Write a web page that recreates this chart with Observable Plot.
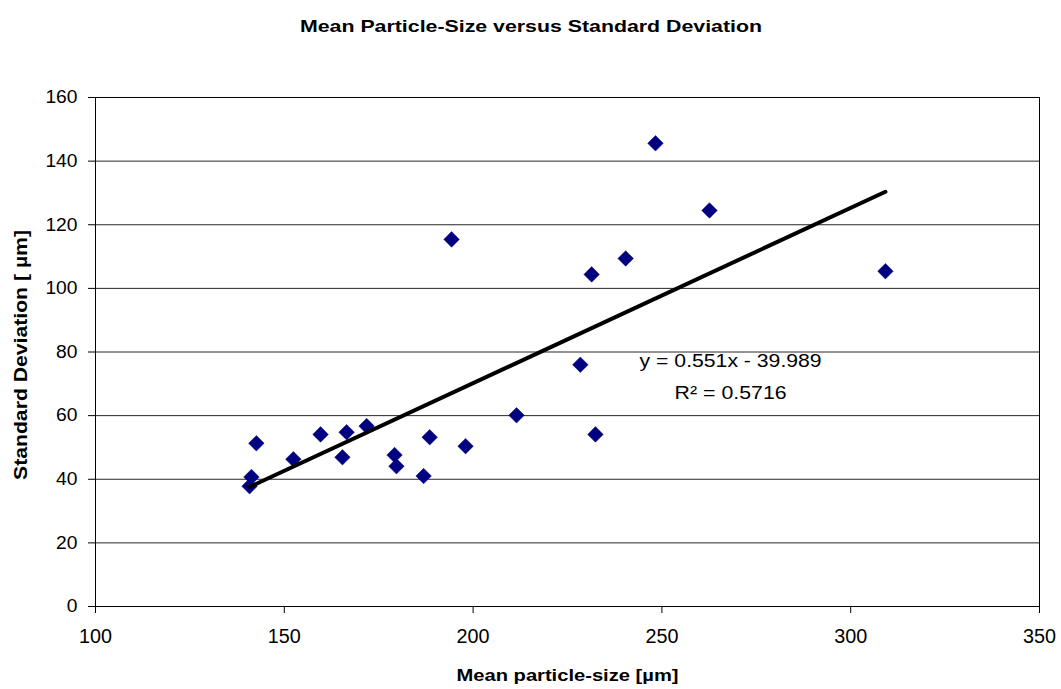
<!DOCTYPE html>
<html>
<head>
<meta charset="utf-8">
<script src="https://cdn.jsdelivr.net/npm/d3@7"></script>
<script src="https://cdn.jsdelivr.net/npm/@observablehq/plot@0.6"></script>
<style>
  body { margin: 0; background: #fff; font-family: "Liberation Sans", Arial, sans-serif; }
  #title { position: relative; height: 40px; width: 1061px; text-align: center; }
  #title span { position: absolute; left: 50%; top: 18px; white-space: nowrap; font-weight: bold; font-size: 16.5px; line-height: 16.5px; color: #000; transform-origin: 0 0; }
  #chart svg { display: block; }
</style>
</head>
<body>
<div id="title"><span>Mean Particle-Size versus Standard Deviation</span></div>
<div id="chart"></div>
<script>
// Mean particle-size [µm]
const meanSize = [140.8, 141.3, 142.6, 152.4, 159.6, 165.4, 166.5, 171.8, 179.2, 179.7, 186.9,
                  188.5, 194.3, 198.0, 211.5, 228.4, 231.4, 232.4, 240.4, 248.3, 262.6, 309.2];
// Standard deviation [µm]
const stdDev   = [37.8, 40.7, 51.3, 46.3, 54.1, 46.9, 54.8, 56.7, 47.6, 44.1, 41.0,
                  53.2, 115.4, 50.4, 60.1, 76.0, 104.4, 54.1, 109.4, 145.6, 124.5, 105.4];
// Linear trendline y = slope*x + intercept
const slope = 0.551, intercept = -39.989;
const equationLines = ["y = 0.551x - 39.989", "R\u00B2 = 0.5716"];
const equationAnchor = {x: 268.2, y: [77.2, 67.1]};
const xTicks = [100, 150, 200, 250, 300, 350];
const yTicks = [0, 20, 40, 60, 80, 100, 120, 140, 160];
const xTitle = "Mean particle-size [\u00B5m]";
const yTitle = "Standard Deviation [ \u00B5m]";

const points = meanSize.map((x, i) => ({x, y: stdDev[i]}));
const xMin = d3.min(meanSize), xMax = d3.max(meanSize);
const trend = [xMin, xMax].map(x => ({x, y: slope * x + intercept}));
const eq = equationLines.map((t, i) => ({t, x: equationAnchor.x, y: equationAnchor.y[i]}));

const chart = Plot.plot({
  width: 1061,
  height: 649,
  marginTop: 57,
  marginBottom: 83,
  marginLeft: 95,
  marginRight: 22,
  style: {fontFamily: "Liberation Sans, Arial, sans-serif", fontSize: "18px", color: "#000", background: "#fff"},
  x: {domain: [100, 350], ticks: xTicks, label: null},
  y: {domain: [0, 160], ticks: yTicks, label: null},
  marks: [
    Plot.ruleY(yTicks, {stroke: "#000", strokeWidth: 1, strokeOpacity: 0.85}),
    Plot.frame({stroke: "#000", strokeWidth: 1}),
    Plot.axisX({ticks: xTicks, tickSize: 7, tickPadding: 15, fontSize: 20, stroke: "#000", label: null}),
    Plot.axisY({ticks: yTicks, tickSize: 7, tickPadding: 11, fontSize: 18, stroke: "#000", label: null}),
    Plot.dot(points, {x: "x", y: "y", symbol: "diamond2", fill: "#000080", stroke: "#000080", strokeWidth: 0.5, r: 7}),
    Plot.line(trend, {x: "x", y: "y", stroke: "#000", strokeWidth: 4}),
    Plot.text(eq, {x: "x", y: "y", text: "t", fontSize: 18.5, fill: "#000", textAnchor: "middle", lineAnchor: "middle"}),
    Plot.text([xTitle], {frameAnchor: "bottom", textAnchor: "middle", lineAnchor: "middle", dy: 69, fontWeight: "bold", fontSize: 16}),
    Plot.text([yTitle], {frameAnchor: "left", textAnchor: "middle", lineAnchor: "middle", dx: -75, dy: 3, rotate: -90, fontWeight: "bold", fontSize: 19})
  ]
});
document.getElementById("chart").appendChild(chart);

// match the horizontally stretched lettering of the original image
const targetWidths = new Map([[xTitle, 222], [yTitle, 250], [equationLines[0], 182], [equationLines[1], 112]]);
d3.select(chart).selectAll("text").each(function () {
  const parent = this.parentNode && this.parentNode.getAttribute("aria-label");
  const txt = this.textContent;
  let w = null;
  if (targetWidths.has(txt)) w = targetWidths.get(txt);
  else if (parent === "x-axis tick label") w = txt.length * 11;
  else if (parent === "y-axis tick label") w = txt.length * 10.7;
  if (w) {
    this.setAttribute("textLength", w);
    this.setAttribute("lengthAdjust", "spacingAndGlyphs");
  }
});
const span = document.querySelector("#title span");
const sw = span.getBoundingClientRect().width;
span.style.transform = `scaleX(${462 / sw}) translateX(-50%)`;
</script>
</body>
</html>
